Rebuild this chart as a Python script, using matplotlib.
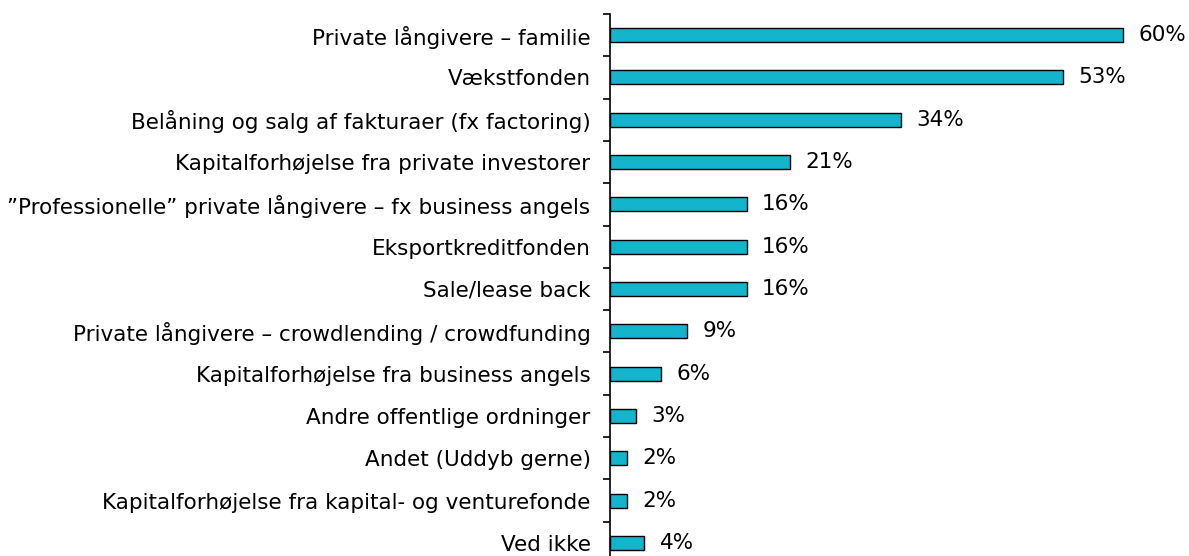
import numpy as np
import matplotlib
matplotlib.use("Agg")
import matplotlib.pyplot as plt

categories = [
    "Private långivere – familie",
    "Vækstfonden",
    "Belåning og salg af fakturaer (fx factoring)",
    "Kapitalforhøjelse fra private investorer",
    "”Professionelle” private långivere – fx business angels",
    "Eksportkreditfonden",
    "Sale/lease back",
    "Private långivere – crowdlending / crowdfunding",
    "Kapitalforhøjelse fra business angels",
    "Andre offentlige ordninger",
    "Andet (Uddyb gerne)",
    "Kapitalforhøjelse fra kapital- og venturefonde",
    "Ved ikke",
]
values = [60, 53, 34, 21, 16, 16, 16, 9, 6, 3, 2, 2, 4]

fig = plt.figure(figsize=(11.89, 5.56), dpi=100)
ax = fig.add_axes([610/1189, -8/556, 579/1189, 550/556])

y = np.arange(len(categories))
ax.barh(y, values, height=0.33, color="#14B4CC", edgecolor="black", lw=1)

for yi, v in zip(y, values):
    ax.annotate(f"{v}%", (v, yi), xytext=(11, 0), textcoords="offset points",
                va="center", ha="left", fontsize=15.5)

ax.set_xlim(0, 67.7)
ax.set_ylim(len(categories) - 0.5, -0.5)

ax.set_yticks(y)
ax.set_yticklabels(categories, fontsize=15.5)
ax.tick_params(axis="y", which="major", length=0, pad=14)
ax.set_yticks(np.arange(-0.5, len(categories)), minor=True)
ax.tick_params(axis="y", which="minor", length=5, width=1.2, direction="out")
ax.set_xticks([])

for s in ["top", "right", "bottom"]:
    ax.spines[s].set_visible(False)
ax.spines["left"].set_linewidth(1.2)

plt.savefig("out.png", dpi=100)
